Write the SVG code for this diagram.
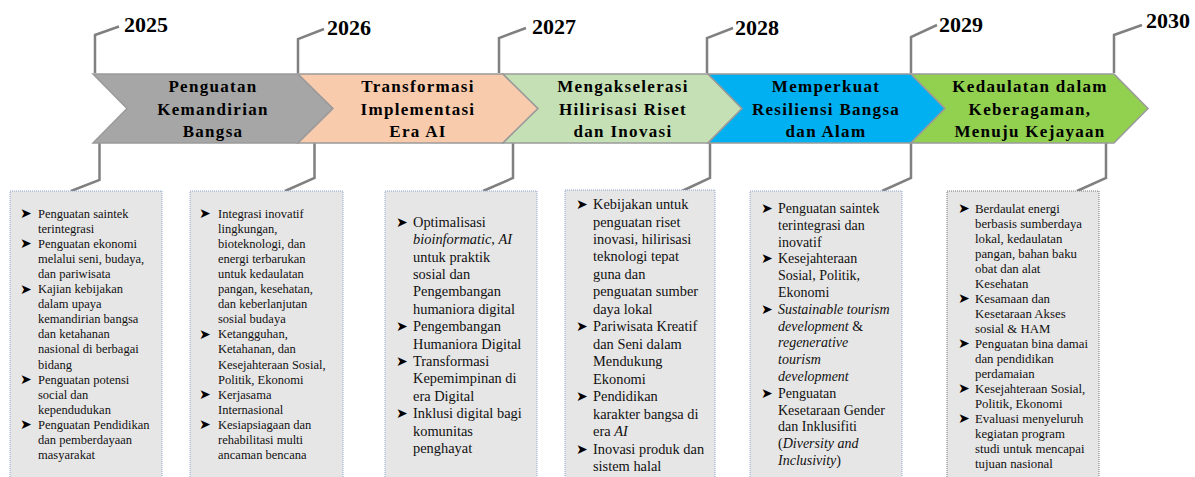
<svg xmlns="http://www.w3.org/2000/svg" width="1195" height="477" viewBox="0 0 1195 477">
<style>
.yr{font-family:"Liberation Serif",serif;font-weight:bold;font-size:22px;fill:#000}
.bt{font-family:"Liberation Serif",serif;font-weight:bold;font-size:17px;letter-spacing:1.3px;text-anchor:middle;fill:#000}
.chev{stroke:#9a9a9a;stroke-width:1.5;stroke-linejoin:miter}
.box{fill:#e7e6e6;stroke:#8ea4cf;stroke-width:1;stroke-dasharray:1 1}
.box6{fill:#e7e6e6;stroke:#777;stroke-width:1;stroke-dasharray:1 1}
.conn{fill:none;stroke:#808080;stroke-width:2.5;stroke-linejoin:miter}
.s{font-family:"Liberation Serif",serif;font-size:12.5px;fill:#111}
.m{font-family:"Liberation Serif",serif;font-size:14.4px;fill:#111}
.m5{font-family:"Liberation Serif",serif;font-size:14px;fill:#111}
.s6{font-family:"Liberation Serif",serif;font-size:12.8px;fill:#111}
.b{font-family:"DejaVu Sans",sans-serif;font-size:14px;fill:#000}
.i{font-style:italic}
</style>

<g id="connectors">
<path class="conn" d="M95,73 V35 L119,26.5"/>
<path class="conn" d="M298,73 V39 L324,29"/>
<path class="conn" d="M499,73 V38 L526,28"/>
<path class="conn" d="M707,73 V38 L733,28"/>
<path class="conn" d="M911,73 V37 L937,25"/>
<path class="conn" d="M1114,73 V35 L1142,25"/>
<path class="conn" d="M99.5,143 V180 L71,191"/>
<path class="conn" d="M314.5,143 V178 L285,191"/>
<path class="conn" d="M513,143 V178 L483,191"/>
<path class="conn" d="M710,143 V178 L682,191"/>
<path class="conn" d="M911,143 V178 L882,191"/>
<path class="conn" d="M1106,143 V178 L1077,191"/>
</g>

<g id="years">
<text class="yr" x="124" y="32">2025</text>
<text class="yr" x="327" y="35">2026</text>
<text class="yr" x="532" y="34">2027</text>
<text class="yr" x="735" y="35">2028</text>
<text class="yr" x="939" y="32">2029</text>
<text class="yr" x="1146" y="28">2030</text>
</g>

<g id="chevron1">
<polygon class="chev" fill="#a6a6a6" points="93,74 298,74 333,108.5 298,143 93,143 127,108.5"/>
<text class="bt" x="213" y="92">Penguatan</text>
<text class="bt" x="213" y="114.5">Kemandirian</text>
<text class="bt" x="213" y="137">Bangsa</text>
</g>
<g id="chevron2">
<polygon class="chev" fill="#f8cbad" points="298,74 503,74 538,108.5 503,143 298,143 333,108.5"/>
<text class="bt" x="418" y="92">Transformasi</text>
<text class="bt" x="418" y="114.5">Implementasi</text>
<text class="bt" x="418" y="137">Era AI</text>
</g>
<g id="chevron3">
<polygon class="chev" fill="#c5e0b4" points="503,74 708,74 742,108.5 708,143 503,143 538,108.5"/>
<text class="bt" x="623" y="92">Mengakselerasi</text>
<text class="bt" x="623" y="114.5">Hilirisasi Riset</text>
<text class="bt" x="623" y="137">dan Inovasi</text>
</g>
<g id="chevron4">
<polygon class="chev" fill="#00b0f0" points="708,74 911,74 945,108.5 911,143 708,143 742,108.5"/>
<text class="bt" x="826" y="92">Memperkuat</text>
<text class="bt" x="826" y="114.5">Resiliensi Bangsa</text>
<text class="bt" x="826" y="137">dan Alam</text>
</g>
<g id="chevron5">
<polygon class="chev" fill="#92d050" points="911,74 1114,74 1148,108.5 1114,143 911,143 945,108.5"/>
<text class="bt" x="1030" y="92">Kedaulatan dalam</text>
<text class="bt" x="1030" y="114.5">Keberagaman,</text>
<text class="bt" x="1030" y="137">Menuju Kejayaan</text>
</g>

<g id="box1">
<rect class="box" x="10" y="191" width="152" height="300"/>
<text class="b" x="20" y="218">➤</text>
<text class="b" x="20" y="248.2">➤</text>
<text class="b" x="20" y="293.5">➤</text>
<text class="b" x="20" y="384.1">➤</text>
<text class="b" x="20" y="429.4">➤</text>
<text class="s" x="38" y="217.5">Penguatan saintek</text>
<text class="s" x="38" y="232.6">terintegrasi</text>
<text class="s" x="38" y="247.7">Penguatan ekonomi</text>
<text class="s" x="38" y="262.8">melalui seni, budaya,</text>
<text class="s" x="38" y="277.9">dan pariwisata</text>
<text class="s" x="38" y="293">Kajian kebijakan</text>
<text class="s" x="38" y="308.1">dalam upaya</text>
<text class="s" x="38" y="323.2">kemandirian bangsa</text>
<text class="s" x="38" y="338.3">dan ketahanan</text>
<text class="s" x="38" y="353.4">nasional di berbagai</text>
<text class="s" x="38" y="368.5">bidang</text>
<text class="s" x="38" y="383.6">Penguatan potensi</text>
<text class="s" x="38" y="398.7">social dan</text>
<text class="s" x="38" y="413.8">kependudukan</text>
<text class="s" x="38" y="428.9">Penguatan Pendidikan</text>
<text class="s" x="38" y="444">dan pemberdayaan</text>
<text class="s" x="38" y="459.1">masyarakat</text>
</g>

<g id="box2">
<rect class="box" x="190" y="191" width="153" height="300"/>
<text class="b" x="199" y="218">➤</text>
<text class="b" x="199" y="338.8">➤</text>
<text class="b" x="199" y="399.2">➤</text>
<text class="b" x="199" y="429.4">➤</text>
<text class="s" x="218" y="217.5">Integrasi inovatif</text>
<text class="s" x="218" y="232.6">lingkungan,</text>
<text class="s" x="218" y="247.7">bioteknologi, dan</text>
<text class="s" x="218" y="262.8">energi terbarukan</text>
<text class="s" x="218" y="277.9">untuk kedaulatan</text>
<text class="s" x="218" y="293">pangan, kesehatan,</text>
<text class="s" x="218" y="308.1">dan keberlanjutan</text>
<text class="s" x="218" y="323.2">sosial budaya</text>
<text class="s" x="218" y="338.3">Ketangguhan,</text>
<text class="s" x="218" y="353.4">Ketahanan, dan</text>
<text class="s" x="218" y="368.5">Kesejahteraan Sosial,</text>
<text class="s" x="218" y="383.6">Politik, Ekonomi</text>
<text class="s" x="218" y="398.7">Kerjasama</text>
<text class="s" x="218" y="413.8">Internasional</text>
<text class="s" x="218" y="428.9">Kesiapsiagaan dan</text>
<text class="s" x="218" y="444">rehabilitasi multi</text>
<text class="s" x="218" y="459.1">ancaman bencana</text>
</g>

<g id="box3">
<rect class="box" x="385" y="191" width="152" height="300"/>
<text class="b" x="396" y="226.7">➤</text>
<text class="b" x="396" y="331.1">➤</text>
<text class="b" x="396" y="365.9">➤</text>
<text class="b" x="396" y="418.1">➤</text>
<text class="m" x="413" y="226.7">Optimalisasi</text>
<text class="m" x="413" y="244.1"><tspan class="i">bioinformatic</tspan>, <tspan class="i">AI</tspan></text>
<text class="m" x="413" y="261.5">untuk praktik</text>
<text class="m" x="413" y="278.9">sosial dan</text>
<text class="m" x="413" y="296.3">Pengembangan</text>
<text class="m" x="413" y="313.7">humaniora digital</text>
<text class="m" x="413" y="331.1">Pengembangan</text>
<text class="m" x="413" y="348.5">Humaniora Digital</text>
<text class="m" x="413" y="365.9">Transformasi</text>
<text class="m" x="413" y="383.3">Kepemimpinan di</text>
<text class="m" x="413" y="400.7">era Digital</text>
<text class="m" x="413" y="418.1">Inklusi digital bagi</text>
<text class="m" x="413" y="435.5">komunitas</text>
<text class="m" x="413" y="452.9">penghayat</text>
</g>

<g id="box4">
<rect class="box" x="565" y="190" width="150" height="300"/>
<text class="b" x="576" y="209">➤</text>
<text class="b" x="576" y="331.3">➤</text>
<text class="b" x="576" y="401.2">➤</text>
<text class="b" x="576" y="453.6">➤</text>
<text class="m" x="593" y="209">Kebijakan untuk</text>
<text class="m" x="593" y="226.5">penguatan riset</text>
<text class="m" x="593" y="243.9">inovasi, hilirisasi</text>
<text class="m" x="593" y="261.4">teknologi tepat</text>
<text class="m" x="593" y="278.9">guna dan</text>
<text class="m" x="593" y="296.4">penguatan sumber</text>
<text class="m" x="593" y="313.8">daya lokal</text>
<text class="m" x="593" y="331.3">Pariwisata Kreatif</text>
<text class="m" x="593" y="348.8">dan Seni dalam</text>
<text class="m" x="593" y="366.2">Mendukung</text>
<text class="m" x="593" y="383.7">Ekonomi</text>
<text class="m" x="593" y="401.2">Pendidikan</text>
<text class="m" x="593" y="418.6">karakter bangsa di</text>
<text class="m" x="593" y="436.1">era <tspan class="i">AI</tspan></text>
<text class="m" x="593" y="453.6">Inovasi produk dan</text>
<text class="m" x="593" y="471">sistem halal</text>
</g>

<g id="box5">
<rect class="box" x="750" y="191" width="152" height="300"/>
<text class="b" x="761" y="213">➤</text>
<text class="b" x="761" y="263.4">➤</text>
<text class="b" x="761" y="313.8">➤</text>
<text class="b" x="761" y="397.8">➤</text>
<text class="m5" x="778" y="213">Penguatan saintek</text>
<text class="m5" x="778" y="229.8">terintegrasi dan</text>
<text class="m5" x="778" y="246.6">inovatif</text>
<text class="m5" x="778" y="263.4">Kesejahteraan</text>
<text class="m5" x="778" y="280.2">Sosial, Politik,</text>
<text class="m5" x="778" y="297">Ekonomi</text>
<text class="m5 i" x="778" y="313.8">Sustainable tourism</text>
<text class="m5" x="778" y="330.6"><tspan class="i">development</tspan> &amp;</text>
<text class="m5 i" x="778" y="347.4">regenerative</text>
<text class="m5 i" x="778" y="364.2">tourism</text>
<text class="m5 i" x="778" y="381">development</text>
<text class="m5" x="778" y="397.8">Penguatan</text>
<text class="m5" x="778" y="414.6">Kesetaraan Gender</text>
<text class="m5" x="778" y="431.4">dan Inklusifiti</text>
<text class="m5" x="778" y="448.2">(<tspan class="i">Diversity and</tspan></text>
<text class="m5" x="778" y="465"><tspan class="i">Inclusivity</tspan>)</text>
</g>

<g id="box6">
<rect class="box6" x="947" y="191" width="152" height="300"/>
<text class="b" x="958" y="213">➤</text>
<text class="b" x="958" y="303">➤</text>
<text class="b" x="958" y="348">➤</text>
<text class="b" x="958" y="393">➤</text>
<text class="b" x="958" y="423">➤</text>
<text class="s6" x="975" y="212.5">Berdaulat energi</text>
<text class="s6" x="975" y="227.5">berbasis sumberdaya</text>
<text class="s6" x="975" y="242.5">lokal, kedaulatan</text>
<text class="s6" x="975" y="257.5">pangan, bahan baku</text>
<text class="s6" x="975" y="272.5">obat dan alat</text>
<text class="s6" x="975" y="287.5">Kesehatan</text>
<text class="s6" x="975" y="302.5">Kesamaan dan</text>
<text class="s6" x="975" y="317.5">Kesetaraan Akses</text>
<text class="s6" x="975" y="332.5">sosial &amp; HAM</text>
<text class="s6" x="975" y="347.5">Penguatan bina damai</text>
<text class="s6" x="975" y="362.5">dan pendidikan</text>
<text class="s6" x="975" y="377.5">perdamaian</text>
<text class="s6" x="975" y="392.5">Kesejahteraan Sosial,</text>
<text class="s6" x="975" y="407.5">Politik, Ekonomi</text>
<text class="s6" x="975" y="422.5">Evaluasi menyeluruh</text>
<text class="s6" x="975" y="437.5">kegiatan program</text>
<text class="s6" x="975" y="452.5">studi untuk mencapai</text>
<text class="s6" x="975" y="467.5">tujuan nasional</text>
</g>
</svg>
